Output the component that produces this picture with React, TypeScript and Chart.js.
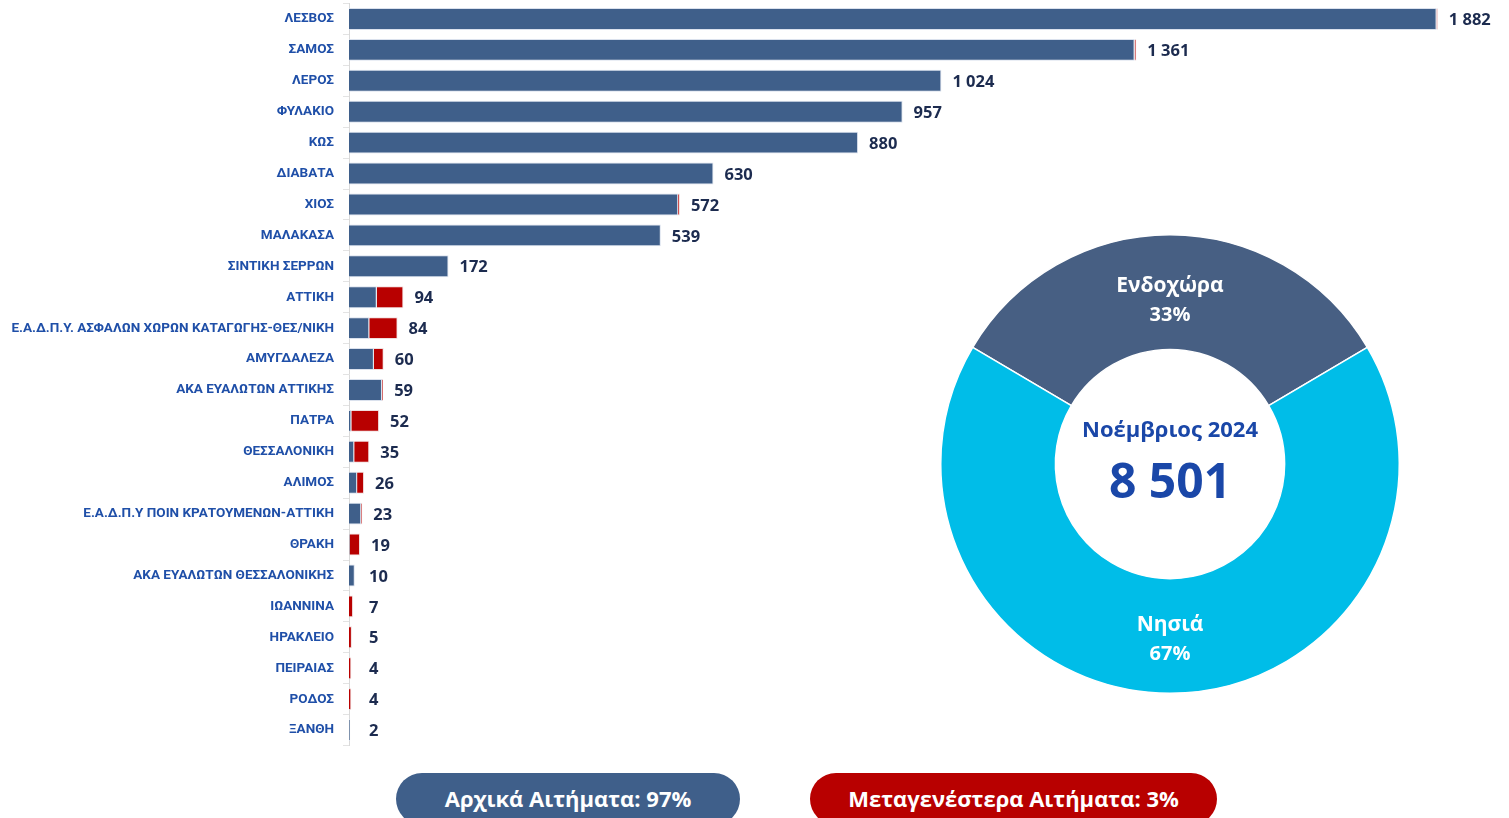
import React, { useEffect, useRef } from "react";
import { Chart, registerables } from "chart.js";

Chart.register(...registerables);

const categories = [
  "ΛΕΣΒΟΣ", "ΣΑΜΟΣ", "ΛΕΡΟΣ", "ΦΥΛΑΚΙΟ", "ΚΩΣ", "ΔΙΑΒΑΤΑ", "ΧΙΟΣ", "ΜΑΛΑΚΑΣΑ",
  "ΣΙΝΤΙΚΗ ΣΕΡΡΩΝ", "ΑΤΤΙΚΗ", "Ε.Α.Δ.Π.Υ. ΑΣΦΑΛΩΝ ΧΩΡΩΝ ΚΑΤΑΓΩΓΗΣ-ΘΕΣ/ΝΙΚΗ", "ΑΜΥΓΔΑΛΕΖΑ",
  "ΑΚΑ ΕΥΑΛΩΤΩΝ ΑΤΤΙΚΗΣ", "ΠΑΤΡΑ", "ΘΕΣΣΑΛΟΝΙΚΗ", "ΑΛΙΜΟΣ", "Ε.Α.Δ.Π.Υ ΠΟΙΝ ΚΡΑΤΟΥΜΕΝΩΝ-ΑΤΤΙΚΗ",
  "ΘΡΑΚΗ", "ΑΚΑ ΕΥΑΛΩΤΩΝ ΘΕΣΣΑΛΟΝΙΚΗΣ", "ΙΩΑΝΝΙΝΑ", "ΗΡΑΚΛΕΙΟ", "ΠΕΙΡΑΙΑΣ", "ΡΟΔΟΣ", "ΞΑΝΘΗ",
];
const initialRequests = [1880, 1358, 1024, 957, 880, 630, 569, 539, 172, 48, 35, 43, 57, 4, 9, 14, 21, 1, 10, 0, 0, 0, 0, 2];
const laterRequests = [2, 3, 0, 0, 0, 0, 3, 0, 0, 46, 49, 17, 2, 48, 26, 12, 2, 18, 0, 7, 5, 4, 4, 0];

const regionLabels = ["Ενδοχώρα", "Νησιά"];
const regionShares = [33, 67];
const centerTitle = "Νοέμβριος 2024";
const centerTotal = "8 501";
const legendInitial = "Αρχικά Αιτήματα: 97%";
const legendLater = "Μεταγενέστερα Αιτήματα: 3%";

const BLUE = "#3f5f8a";
const RED = "#b80000";
const fmt = (v: number) => String(v).replace(/\B(?=(\d{3})+(?!\d))/g, " ");
const nz = (a: number[]) => a.map((v) => (v === 0 ? null : v));

export default function App() {
  const barRef = useRef<HTMLCanvasElement>(null);
  const pieRef = useRef<HTMLCanvasElement>(null);

  useEffect(() => {
    document.body.style.margin = "0";
    const totals = initialRequests.map((v, i) => v + laterRequests[i]);
    const valueLabels = {
      id: "valueLabels",
      afterDatasetsDraw(chart: any) {
        const ctx = chart.ctx;
        const xs = chart.scales.x;
        const ys = chart.scales.y;
        ctx.save();
        ctx.font = "bold 16.5px 'Open Sans'";
        ctx.fillStyle = "#1c2b4f";
        ctx.textBaseline = "middle";
        ctx.textAlign = "left";
        totals.forEach((t, i) => {
          const x = Math.max(xs.getPixelForValue(t) + 11, xs.left + 20);
          const y = ys.getPixelForValue(i) + 1.5;
          ctx.fillText(fmt(t), x, y);
        });
        ctx.restore();
      },
    };
    const bar = new Chart(barRef.current!, {
      type: "bar",
      data: {
        labels: categories,
        datasets: [
          { label: "Αρχικά", data: nz(initialRequests) as any, backgroundColor: BLUE, borderColor: "rgba(214,222,235,0.9)", borderWidth: 1, barPercentage: 0.71, categoryPercentage: 1 },
          { label: "Μεταγενέστερα", data: nz(laterRequests) as any, backgroundColor: RED, borderColor: "rgba(230,200,200,0.6)", borderWidth: 1, barPercentage: 0.71, categoryPercentage: 1 },
        ],
      },
      options: {
        indexAxis: "y",
        animation: false,
        responsive: true,
        maintainAspectRatio: false,
        layout: { padding: { left: 0, right: 3, top: 3.5, bottom: 14.5 } },
        plugins: { legend: { display: false }, tooltip: { enabled: false } },
        scales: {
          x: { stacked: true, display: false, min: 0, max: 2000 },
          y: {
            stacked: true,
            afterFit: (axis: any) => { axis.width = 349; axis.paddingTop = 0; axis.paddingBottom = 0; },
            grid: { display: true, drawOnChartArea: false, drawTicks: true, tickLength: 6, color: "#e3e3e3" },
            border: { display: true, color: "#d9d9d9" },
            ticks: { font: { family: "Roboto", weight: "bold", size: 13.5 }, color: "#1f4fa8", padding: 9, autoSkip: false },
          },
        },
      },
      plugins: [valueLabels],
    });

    const pieText = {
      id: "pieText",
      afterDatasetsDraw(chart: any) {
        const ctx = chart.ctx;
        const meta = chart.getDatasetMeta(0);
        ctx.save();
        ctx.textAlign = "center";
        ctx.textBaseline = "middle";
        ctx.fillStyle = "#ffffff";
        meta.data.forEach((arc: any, i: number) => {
          const p = arc.tooltipPosition();
          const cy = p.y + (i === 0 ? 8 : 3);
          ctx.font = "bold 21px 'Open Sans'";
          ctx.fillText(regionLabels[i], p.x, cy - 14);
          ctx.font = "bold 20px 'Open Sans'";
          ctx.fillText(regionShares[i] + "%", p.x, cy + 15);
        });
        const a = meta.data[0];
        ctx.fillStyle = "#1a47a8";
        ctx.font = "bold 22px 'Open Sans'";
        ctx.fillText(centerTitle, a.x, a.y - 33);
        ctx.font = "bold 48px 'Open Sans'";
        ctx.fillText(centerTotal, a.x, a.y + 20);
        ctx.restore();
      },
    };
    const pie = new Chart(pieRef.current!, {
      type: "doughnut",
      data: {
        labels: regionLabels,
        datasets: [{ data: regionShares, backgroundColor: ["#475f83", "#00bde8"], borderColor: "#ffffff", borderWidth: 1.5 }],
      },
      options: {
        animation: false,
        responsive: true,
        maintainAspectRatio: false,
        cutout: "50%",
        rotation: -59.4,
        layout: { padding: 10 },
        plugins: { legend: { display: false }, tooltip: { enabled: false } },
      },
      plugins: [pieText],
    });
    return () => { bar.destroy(); pie.destroy(); };
  }, []);

  const pill = (bg: string, left: number, width: number, text: string) => (
    <div style={{ position: "absolute", left, top: 773, width, height: 52, borderRadius: 26, background: bg, color: "#fff", fontFamily: "'Open Sans'", fontWeight: 700, fontSize: 22, display: "flex", justifyContent: "center", alignItems: "flex-start", paddingTop: 10, boxSizing: "border-box" }}>
      {text}
    </div>
  );

  return (
    <div style={{ position: "fixed", left: 0, top: 0, width: 1509, height: 818, overflow: "hidden", background: "#fff" }}>
      <div style={{ position: "absolute", left: 0, top: 0, width: 1509, height: 760 }}>
        <canvas ref={barRef} />
      </div>
      <div style={{ position: "absolute", left: 930, top: 224, width: 480, height: 480 }}>
        <canvas ref={pieRef} />
      </div>
      {pill(BLUE, 396, 344, legendInitial)}
      {pill(RED, 810, 407, legendLater)}
    </div>
  );
}
